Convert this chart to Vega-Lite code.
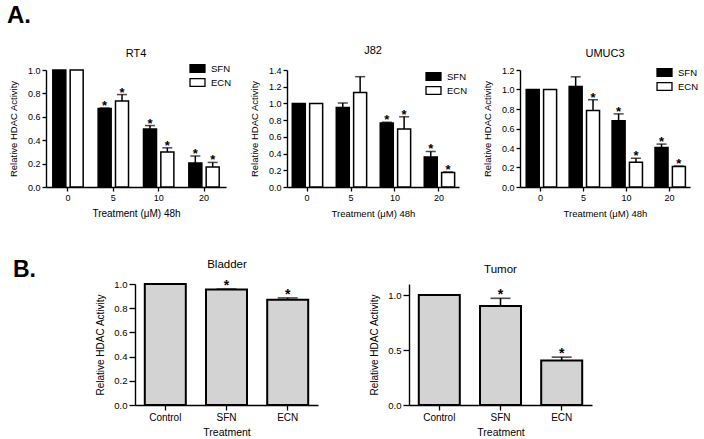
{
  "$schema": "https://vega.github.io/schema/vega-lite/v6.json",
  "padding": {"left": 7, "top": 4, "right": 0, "bottom": 0},
  "config": {
    "font": "Liberation Sans",
    "view": {"stroke": null},
    "axis": {"domainColor": "black", "domainWidth": 1.4, "tickColor": "black", "tickWidth": 1.3, "tickSize": 4, "labelColor": "black", "titleColor": "black", "labelFontSize": 9, "titleFontSize": 9.5, "titleFontWeight": "normal", "grid": false, "labelPadding": 2, "labelOverlap": false, "labelFlush": false, "labelBound": false},
    "axisX": {"labelAngle": 0, "titlePadding": 6},
    "axisY": {"titlePadding": 9, "format": ".1f", "tickCount": 20},
    "title": {"fontSize": 11, "fontWeight": "normal", "color": "black", "offset": 6},
    "legend": {"orient": "none", "title": null, "symbolType": "M-1.15,-0.6H1.15V0.6H-1.15Z", "symbolSize": 169, "symbolStrokeColor": "black", "symbolStrokeWidth": 1.3, "labelFontSize": 9.5, "labelColor": "black", "labelOffset": 6, "rowPadding": 0}
  },
  "spacing": 40,
  "vconcat": [
    {
      "title": {"text": "A.", "anchor": "start", "frame": "group", "fontSize": 24, "fontWeight": "bold", "dx": -39, "offset": -2, "baseline": "alphabetic"},
      "bounds": "flush",
      "spacing": 61,
      "resolve": {"scale": {"fill": "independent", "y": "independent"}, "legend": {"fill": "independent"}},
      "hconcat": [
        {
          "title": {"text": "RT4", "offset": 2},
          "width": 180, "height": 117,
          "data": {"values": [
            {"dose": 0, "treat": "SFN", "value": 1.0, "upper": 1.0, "star": false},
            {"dose": 0, "treat": "ECN", "value": 1.0, "upper": 1.0, "star": false},
            {"dose": 5, "treat": "SFN", "value": 0.67, "upper": 0.675, "star": true},
            {"dose": 5, "treat": "ECN", "value": 0.735, "upper": 0.79, "star": true},
            {"dose": 10, "treat": "SFN", "value": 0.495, "upper": 0.525, "star": true},
            {"dose": 10, "treat": "ECN", "value": 0.3, "upper": 0.335, "star": true},
            {"dose": 20, "treat": "SFN", "value": 0.205, "upper": 0.265, "star": true},
            {"dose": 20, "treat": "ECN", "value": 0.17, "upper": 0.21, "star": true}
          ]},
          "encoding": {
            "x": {"field": "dose", "type": "ordinal", "scale": {"paddingInner": 0.33, "paddingOuter": 0.15}, "axis": {"title": "Treatment (\u03bcM) 48h", "titleFontSize": 10}},
            "xOffset": {"field": "treat", "type": "nominal", "scale": {"domain": ["SFN", "ECN"], "paddingInner": 0.25}}
          },
          "layer": [
            {"mark": {"type": "bar", "stroke": "black", "strokeWidth": 1.5},
             "encoding": {
               "y": {"field": "value", "type": "quantitative", "scale": {"domain": [0, 1], "nice": false}, "axis": {"title": "Relative HDAC Activity", "values": [0, 0.2, 0.4, 0.6, 0.8, 1.0], "tickCount": 20, "labelOverlap": false}},
               "fill": {"field": "treat", "type": "nominal", "scale": {"domain": ["SFN", "ECN"], "range": ["black", "white"]}, "legend": {"legendX": 144, "legendY": -9}}
             }},
            {"transform": [{"filter": "datum.upper > datum.value"}], "mark": {"type": "rule", "color": "black", "strokeWidth": 1.5},
             "encoding": {"y": {"field": "value", "type": "quantitative"}, "y2": {"field": "upper"}}},
            {"transform": [{"filter": "datum.upper > datum.value"}], "mark": {"type": "tick", "color": "black", "size": 10, "thickness": 1.5},
             "encoding": {"y": {"field": "upper", "type": "quantitative"}}},
            {"transform": [{"filter": "datum.star"}], "mark": {"type": "text", "text": "*", "fontSize": 13, "fontWeight": "bold", "baseline": "alphabetic", "dy": 2, "color": "black"},
             "encoding": {"y": {"field": "upper", "type": "quantitative"}}}
          ]
        },
        {
          "title": {"text": "J82", "offset": 10},
          "width": 172, "height": 117,
          "data": {"values": [
            {"dose": 0, "treat": "SFN", "value": 1.0, "upper": 1.0, "star": false},
            {"dose": 0, "treat": "ECN", "value": 1.0, "upper": 1.0, "star": false},
            {"dose": 5, "treat": "SFN", "value": 0.95, "upper": 1.005, "star": false},
            {"dose": 5, "treat": "ECN", "value": 1.13, "upper": 1.32, "star": false},
            {"dose": 10, "treat": "SFN", "value": 0.765, "upper": 0.775, "star": true},
            {"dose": 10, "treat": "ECN", "value": 0.695, "upper": 0.84, "star": true},
            {"dose": 20, "treat": "SFN", "value": 0.36, "upper": 0.425, "star": true},
            {"dose": 20, "treat": "ECN", "value": 0.175, "upper": 0.18, "star": true}
          ]},
          "encoding": {
            "x": {"field": "dose", "type": "ordinal", "scale": {"paddingInner": 0.33, "paddingOuter": 0.12}, "axis": {"title": "Treatment (\u03bcM) 48h"}},
            "xOffset": {"field": "treat", "type": "nominal", "scale": {"domain": ["SFN", "ECN"], "paddingInner": 0.25}}
          },
          "layer": [
            {"mark": {"type": "bar", "stroke": "black", "strokeWidth": 1.5},
             "encoding": {
               "y": {"field": "value", "type": "quantitative", "scale": {"domain": [0, 1.4], "nice": false}, "axis": {"title": "Relative HDAC Activity", "values": [0, 0.2, 0.4, 0.6, 0.8, 1.0, 1.2, 1.4], "tickCount": 20, "labelOverlap": false}},
               "fill": {"field": "treat", "type": "nominal", "scale": {"domain": ["SFN", "ECN"], "range": ["black", "white"]}, "legend": {"legendX": 139, "legendY": -1}}
             }},
            {"transform": [{"filter": "datum.upper > datum.value"}], "mark": {"type": "rule", "color": "black", "strokeWidth": 1.5},
             "encoding": {"y": {"field": "value", "type": "quantitative"}, "y2": {"field": "upper"}}},
            {"transform": [{"filter": "datum.upper > datum.value"}], "mark": {"type": "tick", "color": "black", "size": 10, "thickness": 1.5},
             "encoding": {"y": {"field": "upper", "type": "quantitative"}}},
            {"transform": [{"filter": "datum.star"}], "mark": {"type": "text", "text": "*", "fontSize": 13, "fontWeight": "bold", "baseline": "alphabetic", "dy": 2, "color": "black"},
             "encoding": {"y": {"field": "upper", "type": "quantitative"}}}
          ]
        },
        {
          "title": {"text": "UMUC3", "offset": 6},
          "width": 170, "height": 117,
          "data": {"values": [
            {"dose": 0, "treat": "SFN", "value": 1.0, "upper": 1.0, "star": false},
            {"dose": 0, "treat": "ECN", "value": 1.0, "upper": 1.0, "star": false},
            {"dose": 5, "treat": "SFN", "value": 1.03, "upper": 1.13, "star": false},
            {"dose": 5, "treat": "ECN", "value": 0.785, "upper": 0.895, "star": true},
            {"dose": 10, "treat": "SFN", "value": 0.68, "upper": 0.75, "star": true},
            {"dose": 10, "treat": "ECN", "value": 0.255, "upper": 0.295, "star": true},
            {"dose": 20, "treat": "SFN", "value": 0.405, "upper": 0.44, "star": true},
            {"dose": 20, "treat": "ECN", "value": 0.21, "upper": 0.215, "star": true}
          ]},
          "encoding": {
            "x": {"field": "dose", "type": "ordinal", "scale": {"paddingInner": 0.33, "paddingOuter": 0.145}, "axis": {"title": "Treatment (\u03bcM) 48h"}},
            "xOffset": {"field": "treat", "type": "nominal", "scale": {"domain": ["SFN", "ECN"], "paddingInner": 0.25}}
          },
          "layer": [
            {"mark": {"type": "bar", "stroke": "black", "strokeWidth": 1.5},
             "encoding": {
               "y": {"field": "value", "type": "quantitative", "scale": {"domain": [0, 1.2], "nice": false}, "axis": {"title": "Relative HDAC Activity", "values": [0, 0.2, 0.4, 0.6, 0.8, 1.0, 1.2], "tickCount": 20, "labelOverlap": false}},
               "fill": {"field": "treat", "type": "nominal", "scale": {"domain": ["SFN", "ECN"], "range": ["black", "white"]}, "legend": {"legendX": 137, "legendY": -5}}
             }},
            {"transform": [{"filter": "datum.upper > datum.value"}], "mark": {"type": "rule", "color": "black", "strokeWidth": 1.5},
             "encoding": {"y": {"field": "value", "type": "quantitative"}, "y2": {"field": "upper"}}},
            {"transform": [{"filter": "datum.upper > datum.value"}], "mark": {"type": "tick", "color": "black", "size": 10, "thickness": 1.5},
             "encoding": {"y": {"field": "upper", "type": "quantitative"}}},
            {"transform": [{"filter": "datum.star"}], "mark": {"type": "text", "text": "*", "fontSize": 13, "fontWeight": "bold", "baseline": "alphabetic", "dy": 2, "color": "black"},
             "encoding": {"y": {"field": "upper", "type": "quantitative"}}}
          ]
        }
      ]
    },
    {
      "title": {"text": "B.", "anchor": "start", "frame": "group", "fontSize": 23, "fontWeight": "bold", "dx": -33, "offset": -41, "baseline": "alphabetic"},
      "bounds": "flush",
      "spacing": 91,
      "resolve": {"scale": {"y": "independent"}},
      "hconcat": [
        {
          "title": {"text": "Bladder", "fontSize": 11.5, "offset": 9, "dx": 45},
          "width": 272, "height": 121,
          "data": {"values": [
            {"treatment": "Control", "value": 1.0, "upper": 1.0, "star": false},
            {"treatment": "SFN", "value": 0.955, "upper": 0.958, "star": true},
            {"treatment": "ECN", "value": 0.87, "upper": 0.885, "star": true}
          ]},
          "encoding": {
            "x": {"field": "treatment", "type": "nominal", "sort": null, "scale": {"range": [89, 272], "paddingInner": 0.33, "paddingOuter": 0.16}, "axis": {"title": "Treatment", "labelFontSize": 10, "titleFontSize": 10.5, "tickSize": 5, "titlePadding": 5}}
          },
          "layer": [
            {"mark": {"type": "bar", "fill": "#d3d3d3", "stroke": "black", "strokeWidth": 2},
             "encoding": {"y": {"field": "value", "type": "quantitative", "scale": {"domain": [0, 1], "nice": false}, "axis": {"title": "Relative HDAC Activity", "values": [0, 0.2, 0.4, 0.6, 0.8, 1.0], "tickCount": 20, "labelOverlap": false, "offset": -89, "labelFontSize": 9.5, "titleFontSize": 10, "tickSize": 6, "labelPadding": 2, "titlePadding": 8}}}},
            {"transform": [{"filter": "datum.upper > datum.value"}], "mark": {"type": "rule", "color": "black", "strokeWidth": 1.6},
             "encoding": {"y": {"field": "value", "type": "quantitative"}, "y2": {"field": "upper"}}},
            {"transform": [{"filter": "datum.upper > datum.value"}], "mark": {"type": "tick", "color": "black", "size": 20, "thickness": 1.6},
             "encoding": {"y": {"field": "upper", "type": "quantitative"}}},
            {"transform": [{"filter": "datum.star"}], "mark": {"type": "text", "text": "*", "fontSize": 14, "fontWeight": "bold", "baseline": "alphabetic", "dy": 1, "color": "black"},
             "encoding": {"y": {"field": "upper", "type": "quantitative"}}}
          ]
        },
        {
          "title": {"text": "Tumor", "fontSize": 11.5, "offset": 9},
          "width": 183, "height": 121,
          "data": {"values": [
            {"treatment": "Control", "value": 1.0, "upper": 1.0, "star": false},
            {"treatment": "SFN", "value": 0.9, "upper": 0.97, "star": true},
            {"treatment": "ECN", "value": 0.405, "upper": 0.435, "star": true}
          ]},
          "encoding": {
            "x": {"field": "treatment", "type": "nominal", "sort": null, "scale": {"paddingInner": 0.33, "paddingOuter": 0.16}, "axis": {"title": "Treatment", "labelFontSize": 10, "titleFontSize": 10.5, "tickSize": 5, "titlePadding": 5}}
          },
          "layer": [
            {"mark": {"type": "bar", "fill": "#d3d3d3", "stroke": "black", "strokeWidth": 2},
             "encoding": {"y": {"field": "value", "type": "quantitative", "scale": {"domain": [0, 1.1], "nice": false}, "axis": {"title": "Relative HDAC Activity", "values": [0, 0.5, 1.0], "tickCount": 20, "labelOverlap": false, "labelFontSize": 9.5, "titleFontSize": 10, "tickSize": 6, "labelPadding": 2, "titlePadding": 8}}}},
            {"transform": [{"filter": "datum.upper > datum.value"}], "mark": {"type": "rule", "color": "black", "strokeWidth": 1.6},
             "encoding": {"y": {"field": "value", "type": "quantitative"}, "y2": {"field": "upper"}}},
            {"transform": [{"filter": "datum.upper > datum.value"}], "mark": {"type": "tick", "color": "black", "size": 20, "thickness": 1.6},
             "encoding": {"y": {"field": "upper", "type": "quantitative"}}},
            {"transform": [{"filter": "datum.star"}], "mark": {"type": "text", "text": "*", "fontSize": 14, "fontWeight": "bold", "baseline": "alphabetic", "dy": 1, "color": "black"},
             "encoding": {"y": {"field": "upper", "type": "quantitative"}}}
          ]
        }
      ]
    }
  ]
}
